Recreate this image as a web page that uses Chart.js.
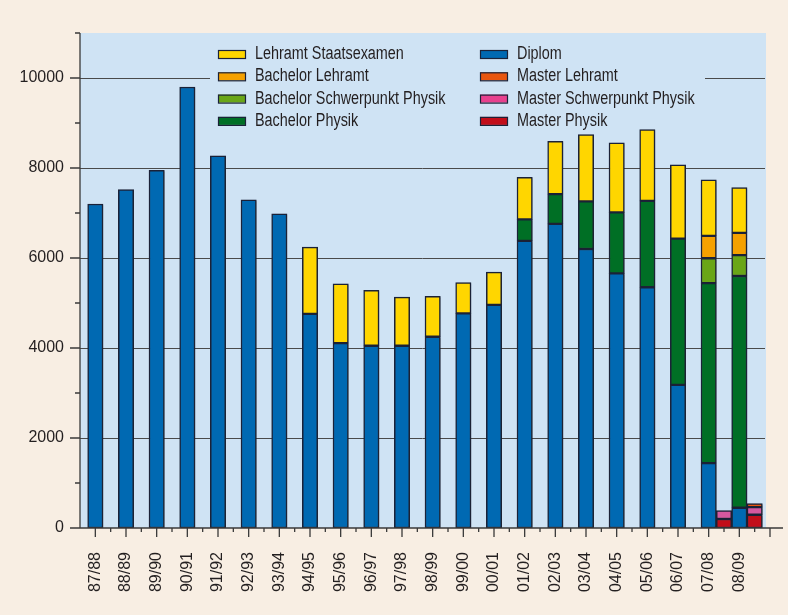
<!DOCTYPE html>
<html>
<head>
<meta charset="utf-8">
<script src="https://cdn.jsdelivr.net/npm/chart.js@4/dist/chart.umd.min.js"></script>
<style>
  html, body { margin: 0; padding: 0; background: #fff; }
  #wrap { width: 800px; height: 615px; }
</style>
</head>
<body>
<div id="wrap"><canvas id="chart" width="800" height="615"></canvas></div>
<script>
// Studienjahre (categories)
const categories = ['87/88', '88/89', '89/90', '90/91', '91/92', '92/93', '93/94', '94/95', '95/96', '96/97', '97/98',
  '98/99', '99/00', '00/01', '01/02', '02/03', '03/04', '04/05', '05/06', '06/07', '07/08', '08/09'];

// main stack, bottom to top
const diplom = [7200, 7520, 7950, 9800, 8270, 7290, 6980, 4760, 4110, 4050, 4050,
  4250, 4770, 4960, 6380, 6760, 6200, 5660, 5350, 3180, 1440, 450];
const bachelorPhysik = [0, 0, 0, 0, 0, 0, 0, 0, 0, 0, 0,
  0, 0, 0, 480, 660, 1060, 1355, 1920, 3250, 4000, 5150];
const bachelorSchwerpunkt = [0, 0, 0, 0, 0, 0, 0, 0, 0, 0, 0,
  0, 0, 0, 0, 0, 0, 0, 0, 0, 555, 465];
const bachelorLehramt = [0, 0, 0, 0, 0, 0, 0, 0, 0, 0, 0,
  0, 0, 0, 0, 0, 0, 0, 0, 0, 495, 495];
const lehramtStaatsexamen = [0, 0, 0, 0, 0, 0, 0, 1480, 1315, 1230, 1080,
  900, 685, 725, 935, 1170, 1480, 1545, 1585, 1640, 1245, 1005];

// master stack (small bar right of the main bar)
const masterPhysik = [0, 0, 0, 0, 0, 0, 0, 0, 0, 0, 0,
  0, 0, 0, 0, 0, 0, 0, 0, 0, 200, 295];
const masterSchwerpunkt = [0, 0, 0, 0, 0, 0, 0, 0, 0, 0, 0,
  0, 0, 0, 0, 0, 0, 0, 0, 0, 185, 170];
const masterLehramt = [0, 0, 0, 0, 0, 0, 0, 0, 0, 0, 0,
  0, 0, 0, 0, 0, 0, 0, 0, 0, 0, 75];

const yMax = 11000;
const yLabels = [0, 2000, 4000, 6000, 8000, 10000];

const FONT = "'Liberation Sans', Arial, sans-serif";
const TEXT = '#231f20';
const EDGE = '#1b2238';

// each year gets two half slots: main bar, then master bar
const nSlots = categories.length * 2 + 2;
const slotLabels = [];
for (let i = 0; i < nSlots; i++) {
  slotLabels.push(i % 2 === 1 && categories[(i - 1) / 2] ? categories[(i - 1) / 2] : '');
}
function mainSlots(arr) {
  const out = new Array(nSlots).fill(null);
  arr.forEach((v, k) => { if (v) out[2 * k + 1] = v; });
  return out;
}
function masterSlots(arr) {
  const out = new Array(nSlots).fill(null);
  arr.forEach((v, k) => { if (v) out[2 * k + 2] = v; });
  return out;
}

const series = [
  { label: 'Diplom', data: mainSlots(diplom), color: '#0069b2' },
  { label: 'Bachelor Physik', data: mainSlots(bachelorPhysik), color: '#006f25' },
  { label: 'Bachelor Schwerpunkt Physik', data: mainSlots(bachelorSchwerpunkt), color: '#6aa617' },
  { label: 'Bachelor Lehramt', data: mainSlots(bachelorLehramt), color: '#f5a100' },
  { label: 'Lehramt Staatsexamen', data: mainSlots(lehramtStaatsexamen), color: '#ffd600' },
  { label: 'Master Physik', data: masterSlots(masterPhysik), color: '#c20e1a' },
  { label: 'Master Schwerpunkt Physik', data: masterSlots(masterSchwerpunkt), color: '#d6589f', legendColor: '#e8418e' },
  { label: 'Master Lehramt', data: masterSlots(masterLehramt), color: '#e8560f' }
];

// legend layout: two columns as in the original
const legendCols = [
  ['Lehramt Staatsexamen', 'Bachelor Lehramt', 'Bachelor Schwerpunkt Physik', 'Bachelor Physik'],
  ['Diplom', 'Master Lehramt', 'Master Schwerpunkt Physik', 'Master Physik']
];

const decor = {
  id: 'decor',
  beforeDraw(chart) {
    const { ctx, chartArea: a, scales: { y } } = chart;
    ctx.save();
    ctx.fillStyle = '#ffffff';
    ctx.fillRect(0, 0, chart.width, chart.height);
    ctx.fillStyle = '#f8eee3';
    ctx.fillRect(0, 0, 788, chart.height);
    ctx.fillStyle = '#cfe3f4';
    const top = y.getPixelForValue(yMax);
    ctx.fillRect(a.left, top, a.right - 4 - a.left, a.bottom - top);
    ctx.restore();
  },
  beforeDatasetsDraw(chart) {
    const { ctx, chartArea: a, scales: { y } } = chart;
    ctx.save();
    // gridlines
    ctx.strokeStyle = '#4a4a4a';
    ctx.lineWidth = 1;
    yLabels.forEach(v => {
      if (v === 0) return;
      const py = Math.round(y.getPixelForValue(v)) + 0.5;
      ctx.beginPath();
      ctx.moveTo(a.left, py);
      ctx.lineTo(a.right - 5, py);
      ctx.stroke();
    });
    // legend (condensed type like the original)
    ctx.fillStyle = '#cfe3f4';
    ctx.fillRect(210, 40, 495, 88);
    ctx.font = '18px ' + FONT;
    ctx.textBaseline = 'alphabetic';
    ctx.textAlign = 'left';
    const colX = [218, 480];
    legendCols.forEach((col, ci) => {
      col.forEach((name, ri) => {
        const s = series.find(d => d.label === name);
        const cy = 54 + ri * 22.3;
        ctx.fillStyle = s.legendColor || s.color;
        ctx.fillRect(colX[ci], cy - 4, 28, 8);
        ctx.strokeStyle = EDGE;
        ctx.lineWidth = 1.2;
        ctx.strokeRect(colX[ci] + 0.5, cy - 4 + 0.5, 27, 8);
        ctx.save();
        ctx.translate(colX[ci] + 37, cy + 5);
        ctx.scale(0.8, 1);
        ctx.fillStyle = TEXT;
        ctx.fillText(name, 0, 0);
        ctx.restore();
      });
    });
    ctx.restore();
    // soft drop shadow under the bars
    ctx.shadowColor = 'rgba(40, 40, 40, 0.35)';
    ctx.shadowOffsetX = 1.5;
    ctx.shadowOffsetY = 1;
    ctx.shadowBlur = 1.5;
  },
  afterDatasetsDraw(chart) {
    const { ctx, chartArea: a, scales: { x, y } } = chart;
    ctx.shadowColor = 'rgba(0, 0, 0, 0)';
    ctx.shadowOffsetX = 0;
    ctx.shadowOffsetY = 0;
    ctx.shadowBlur = 0;
    ctx.save();
    ctx.strokeStyle = '#3a3a3a';
    ctx.lineWidth = 1.3;
    const bottom = a.bottom;
    // axis lines
    ctx.beginPath();
    ctx.moveTo(a.left, y.getPixelForValue(yMax));
    ctx.lineTo(a.left, bottom);
    ctx.moveTo(a.left - 10, bottom);
    ctx.lineTo(783, bottom);
    ctx.stroke();
    // y ticks
    ctx.beginPath();
    for (let v = 1000; v <= yMax; v += 1000) {
      const py = y.getPixelForValue(v);
      const len = v % 2000 === 0 ? 10 : 5;
      ctx.moveTo(a.left - len, py);
      ctx.lineTo(a.left, py);
    }
    // x ticks
    for (let i = 1; i < nSlots; i++) {
      const px = x.getPixelForValue(i);
      const len = i % 2 === 1 ? 9 : 4;
      ctx.moveTo(px, bottom);
      ctx.lineTo(px, bottom + len);
    }
    ctx.stroke();
    ctx.restore();
  }
};

new Chart(document.getElementById('chart'), {
  type: 'bar',
  data: {
    labels: slotLabels,
    datasets: series.map(s => ({
      label: s.label,
      data: s.data,
      backgroundColor: s.color,
      borderColor: EDGE,
      borderWidth: 1.5,
      borderSkipped: false,
      barPercentage: 1,
      categoryPercentage: 1
    }))
  },
  options: {
    responsive: false,
    animation: false,
    layout: { padding: { top: 33, right: 30, bottom: 0, left: 0 } },
    plugins: { legend: { display: false }, tooltip: { enabled: false } },
    scales: {
      x: {
        stacked: true,
        offset: false,
        grid: { display: false, drawTicks: false },
        border: { display: false },
        ticks: {
          autoSkip: false,
          minRotation: 90,
          maxRotation: 90,
          padding: 24,
          color: TEXT,
          font: { family: FONT, size: 16 }
        },
        afterFit: s => { s.height = 87; s.paddingLeft = 0; s.paddingRight = 0; }
      },
      y: {
        stacked: true,
        min: 0,
        max: yMax,
        grid: { display: false, drawTicks: false },
        border: { display: false },
        ticks: {
          stepSize: 1000,
          padding: 16,
          color: TEXT,
          font: { family: FONT, size: 16 },
          callback: v => (yLabels.includes(v) ? String(v) : '')
        },
        afterFit: s => { s.width = 80; }
      }
    }
  },
  plugins: [decor]
});
</script>
</body>
</html>
